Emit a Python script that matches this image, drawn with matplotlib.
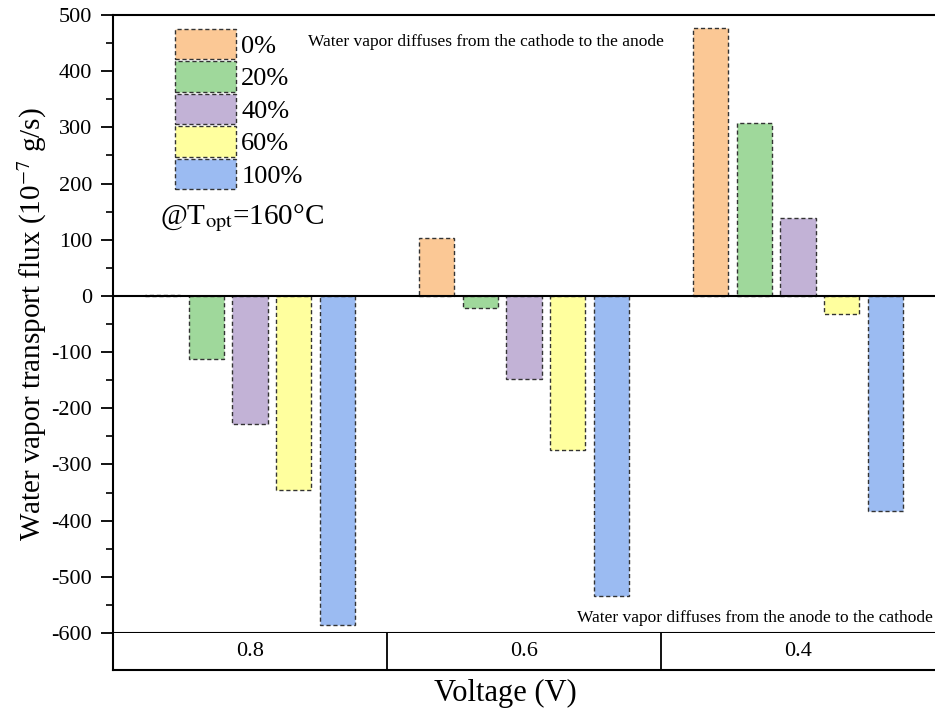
import numpy as np
import matplotlib
matplotlib.use("Agg")
import matplotlib.pyplot as plt
from matplotlib.ticker import MultipleLocator

plt.rcParams['font.family'] = ['Liberation Serif', 'DejaVu Serif']
plt.rcParams['mathtext.fontset'] = 'stix'
plt.rcParams['axes.unicode_minus'] = False

voltages = ['0.8', '0.6', '0.4']
series = ['0%', '20%', '40%', '60%', '100%']
flux = {
    '0%':   [2, 103, 477],
    '20%':  [-112, -21, 308],
    '40%':  [-228, -148, 139],
    '60%':  [-345, -274, -32],
    '100%': [-585, -534, -383],
}
colors = ['#FBC895', '#9FD89B', '#C2B2D6', '#FFFF9E', '#9BBBF2']

fig = plt.figure(figsize=(9.35, 7.17), dpi=100)
ax = fig.add_axes([0.1209, 0.1172, 0.8791, 0.8619])

centers = np.arange(len(voltages)) + 0.5
step, width = 0.16, 0.128
for i, (name, col) in enumerate(zip(series, colors)):
    ax.bar(centers + (i - 2) * step, flux[name], width, color=col,
           edgecolor='#333333', linestyle=(0, (3, 2)), linewidth=1.0,
           label=name, zorder=2)

ax.axhline(0, color='black', lw=1.5, zorder=3)
ax.set_xlim(0, 3)
ax.set_ylim(-600, 500)
ax.yaxis.set_major_locator(MultipleLocator(100))
ax.yaxis.set_minor_locator(MultipleLocator(50))
ax.tick_params(axis='y', which='major', direction='out', length=9, width=1.3,
               labelsize=16, pad=6)
ax.tick_params(axis='y', which='minor', direction='out', length=5, width=1.2)
ax.set_xticks([])
for s in ['left', 'top', 'bottom']:
    ax.spines[s].set_linewidth(1.5)
ax.spines['right'].set_visible(False)
ax.set_ylabel('Water vapor transport flux (10$^{-7}$ g/s)', fontsize=21, labelpad=2)

leg = ax.legend(loc='upper left', bbox_to_anchor=(0.063, 0.995), frameon=False,
                fontsize=19, handlelength=2.3, handleheight=1.4,
                labelspacing=0.08, handletextpad=0.2, borderaxespad=0)

ax.text(0.057, 0.672, '@T$_{\\mathrm{opt}}$=160°C', transform=ax.transAxes,
        fontsize=21, va='center', ha='left')
ax.text(0.237, 0.957, 'Water vapor diffuses from the cathode to the anode',
        transform=ax.transAxes, fontsize=12.5, va='center', ha='left')
ax.text(0.998, 0.025, 'Water vapor diffuses from the anode to the cathode',
        transform=ax.transAxes, fontsize=12.5, va='center', ha='right')

# category box below the plot
tab = fig.add_axes([0.1209, 0.0656, 0.8791, 0.0516])
tab.set_xlim(0, 3)
tab.set_ylim(0, 1)
tab.set_xticks([])
tab.set_yticks([])
for s in ['left', 'bottom']:
    tab.spines[s].set_linewidth(1.5)
tab.spines['top'].set_visible(False)
tab.spines['right'].set_visible(False)
for b in [1, 2]:
    tab.axvline(b, color='black', lw=1.3)
for c, v in zip(centers, voltages):
    tab.text(c, 0.5, v, ha='center', va='center', fontsize=16)

fig.text(0.54, 0.033, 'Voltage (V)', ha='center', va='center', fontsize=22)

fig.savefig('out.png', dpi=100)
